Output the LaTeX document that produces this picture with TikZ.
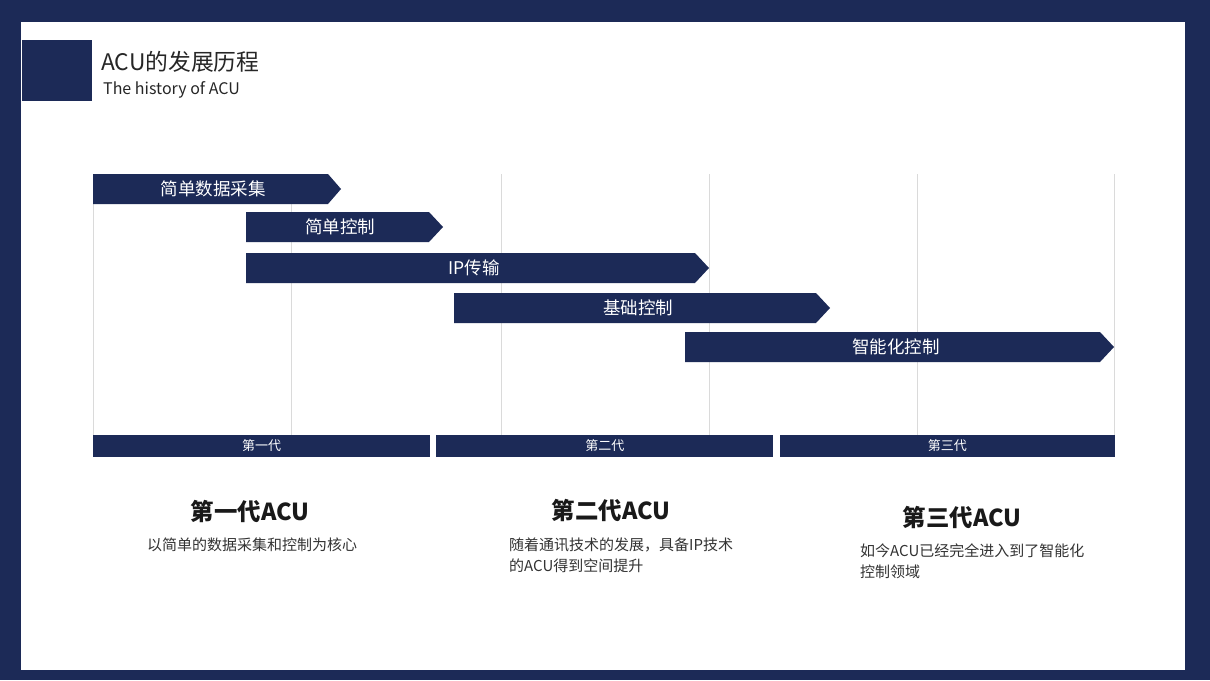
\documentclass[tikz,border=0pt]{standalone}
\usepackage{fontspec}
\setmainfont{Noto Sans CJK SC}
\usepackage{tikz}
\usetikzlibrary{positioning}
\definecolor{navy}{HTML}{1C2A57}
\definecolor{gridgray}{HTML}{DADADA}

\begin{document}
\begin{tikzpicture}[x=1pt, y=-1pt,
        phase/.style={fill=navy},
        phasetext/.style={text=white, inner sep=0pt, font=\fontsize{17.5}{20}\selectfont},
        gen/.style={rectangle, fill=navy, text=white, minimum height=22pt, minimum width=337pt, inner sep=0pt, font=\fontsize{13}{15}\selectfont},
        head/.style={inner sep=0pt, text=black!90, font=\fontsize{23.4}{27}\selectfont\bfseries},
        desc/.style={anchor=base west, inner sep=0pt, align=left, text=black!80, font=\fontsize{15}{21}\selectfont}
    ]
        % frame
        \fill[navy] (0,0) rectangle (1210,680);
        \fill[white] (21,22) rectangle (1185,670);
        \useasboundingbox (0,0) rectangle (1210,680);

        % title
        \fill[navy] (22,40) rectangle (92,101);
        \node[anchor=west, inner sep=0pt, text=black!85, font=\fontsize{22.8}{26}\selectfont] (title) at (101,62) {ACU的发展历程};
        \node[anchor=west, inner sep=0pt, text=black!85, font=\fontsize{16}{19}\selectfont] (subtitle) at (103,90) {The history of ACU};

        % grid lines
        \foreach \gx in {93,291,501,709,917,1114}
            \draw[gridgray, line width=0.8pt] (\gx,174) -- (\gx,435);

        % phase bars
        \fill[phase] (93,174) -- (328,174) -- (341,189) -- (328,204) -- (93,204) -- cycle;
        \node[phasetext] (p1) at (213,189) {简单数据采集};
        \fill[phase] (246,212) -- (429,212) -- (443,227) -- (429,242) -- (246,242) -- cycle;
        \node[phasetext] (p2) at (340,227) {简单控制};
        \fill[phase] (246,253) -- (695,253) -- (709,268) -- (695,283) -- (246,283) -- cycle;
        \node[phasetext] (p3) at (474,268) {IP传输};
        \fill[phase] (454,293) -- (816,293) -- (830,308) -- (816,323) -- (454,323) -- cycle;
        \node[phasetext] (p4) at (638,308) {基础控制};
        \fill[phase] (685,332) -- (1100,332) -- (1114,347) -- (1100,362) -- (685,362) -- cycle;
        \node[phasetext] (p5) at (896,347) {智能化控制};

        % generations
        \node[gen] (gen1) at (261.5,446) {第一代};
        \node[gen, right=6pt of gen1] (gen2) {第二代};
        \node[gen, right=6pt of gen2, minimum width=335pt] (gen3) {第三代};

        % descriptions
        \node[head] (h1) at (250,511) {第一代ACU};
        \node[desc] (d1) at (147,550.5) {以简单的数据采集和控制为核心};
        \node[head] (h2) at (611,510) {第二代ACU};
        \node[desc] (d2) at (509,571.5) {随着通讯技术的发展，具备IP技术\\的ACU得到空间提升};
        \node[head] (h3) at (962,517) {第三代ACU};
        \node[desc] (d3) at (860,577.5) {如今ACU已经完全进入到了智能化\\控制领域};
    \end{tikzpicture}
\end{document}
